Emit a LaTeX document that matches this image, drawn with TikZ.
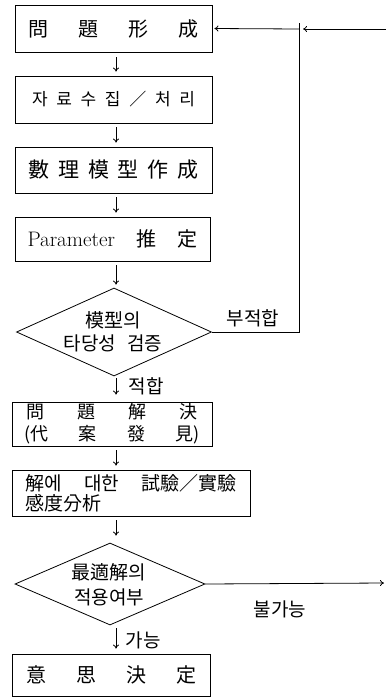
\documentclass[tikz,border=0pt]{standalone}
\usepackage{fontspec}
\newfontfamily\cjk{Noto Sans CJK KR}
\usetikzlibrary{shapes.geometric,arrows.meta}
\begin{document}
\begin{tikzpicture}[x=1pt,y=-1pt,
  box/.style={draw, line width=0.8pt, rectangle, inner sep=0pt, font=\cjk},
  dia/.style={draw, line width=0.8pt, diamond, inner sep=0pt},
  dtext/.style={font=\cjk\fontsize{19}{25}\selectfont, align=center, inner sep=0pt},
  flow/.style={-{To[length=4pt,width=6pt]}, line width=0.8pt, shorten <=4pt, shorten >=4pt},
  conn/.style={line width=0.8pt},
  lbl/.style={font=\cjk\fontsize{19}{22}\selectfont, inner sep=0pt},
]
\useasboundingbox (0,0) rectangle (386,698);
\coordinate (spine) at (116,0);

% boxes
\node[box, minimum width=197pt, minimum height=47pt] (b1) at (113.5,28.5)
  {\fontsize{20}{24}\selectfont\makebox[170pt][s]{問\hfill 題\hfill 形\hfill 成}};
\node[box, minimum width=197pt, minimum height=47pt] (b2) at (113.5,99.5)
  {\fontsize{17}{20}\selectfont\makebox[163pt][s]{자\hfill 료\hfill 수\hfill 집\hfill ／\hfill 처\hfill 리}};
\node[box, minimum width=197pt, minimum height=46pt] (b3) at (113.5,170)
  {\fontsize{21}{24}\selectfont\makebox[170pt][s]{數\hfill 理\hfill 模\hfill 型\hfill 作\hfill 成}};
\node[box, minimum width=195pt, minimum height=44pt] (b4) at (112.5,239)
  {\fontsize{20}{24}\selectfont\makebox[170pt][s]{{\rmfamily\fontsize{21}{24}\selectfont Parameter}\hfill 推\hfill 定}};

\node[dia, minimum width=195pt, minimum height=88pt] (d1) at (114,332) {};
\node[dtext] (d1t) at (113,332) {模型의\\[-2pt]타당성\hspace{0.6em}검증};

\node[box, minimum width=200pt, minimum height=44pt, align=center,
      font=\cjk\fontsize{18}{22}\selectfont] (b5) at (112,424)
  {\makebox[172pt][s]{問\hfill 題\hfill 解\hfill 決}\\
   \makebox[175pt][s]{(代\hfill 案\hfill 發\hfill 見)}};
\node[box, minimum width=238pt, minimum height=46pt, align=left, text width=212pt,
      font=\cjk\fontsize{19}{20}\selectfont] (b6) at (131,493)
  {\makebox[212pt][s]{解에\hfill 대한\hfill 試驗／實驗}\\
   感度分析};

\node[dia, minimum width=190pt, minimum height=82pt] (d2) at (110,584) {};
\node[dtext] (d2t) at (109,585) {最適解의\\적용여부};

\node[box, minimum width=198pt, minimum height=42pt] (b7) at (111,675)
  {\fontsize{20}{24}\selectfont\makebox[170pt][s]{意\hfill 思\hfill 決\hfill 定}};

% main flow
\draw[flow, shorten <=5pt] (b1.south -| spine) -- (b2.north -| spine);
\draw[flow] (b2.south -| spine) -- (b3.north -| spine);
\draw[flow] (b3.south -| spine) -- (b4.north -| spine);
\draw[flow, shorten >=3pt] (b4.south -| spine) -- (d1.north -| spine);
\draw[flow, shorten <=2pt, shorten >=7pt] (d1.south -| spine) -- (b5.north -| spine);
\draw[flow] (b5.south -| spine) -- (b6.north -| spine);
\draw[flow, shorten >=7pt] (b6.south -| spine) -- (d2.north -| spine);
\draw[flow, shorten <=3pt, shorten >=5pt] (d2.south -| spine) -- (b7.north -| spine);

% feedback loop
\coordinate (fbtop) at (299,23);
\coordinate (fbm) at (299,29);
\coordinate (rin) at (386,29);
\coordinate (rout) at (385,583);
\draw[conn] (d1.east) -- (d1.east -| fbtop) -- (fbtop);
\draw[flow, shorten <=0pt, shorten >=2pt] (fbm) -- (b1.east);
\draw[flow, shorten <=0pt, shorten >=4pt] (rin) -- (fbm);
\draw[flow, shorten <=0pt, shorten >=1pt] (d2.east) -- (rout);

% labels
\node[lbl] (l1) at (253,318) {부적합};
\node[lbl] (l2) at (146,386) {적합};
\node[lbl] (l3) at (280,609) {불가능};
\node[lbl] (l4) at (143,640) {가능};
\end{tikzpicture}
\end{document}
